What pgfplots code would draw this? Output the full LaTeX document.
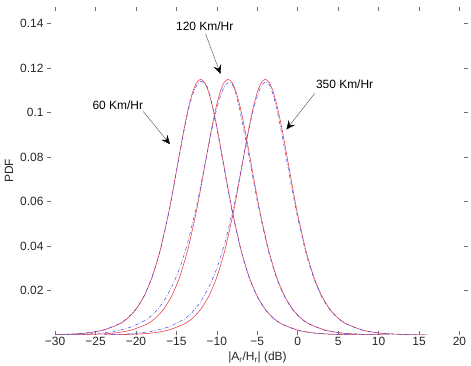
\documentclass[border=0pt]{standalone}
\usepackage{pgfplots}
\pgfplotsset{compat=1.18}
\usepackage{fontspec}
\setmainfont{Liberation Sans}
\usetikzlibrary{arrows.meta}

\definecolor{anaRed}{RGB}{236,70,80}
\definecolor{simBlue}{RGB}{70,70,225}
\definecolor{axGray}{RGB}{110,110,110}

% analytical PDF (solid red) and simulated PDF (dash-dot blue) for three speeds
\pgfplotstableread{
x y
-30 0.00015
-28 0.0004
-26 0.0009
-24 0.0022
-22 0.0050
-21 0.0076
-20 0.0115
-19 0.0174
-18 0.0260
-17 0.0382
-16 0.0543
-15.5 0.0637
-15 0.0738
-14.5 0.0839
-14 0.0937
-13.5 0.1023
-13 0.1091
-12.5 0.1135
-12 0.1150
-11.5 0.1135
-11 0.1091
-10.5 0.1023
-10 0.0937
-9.5 0.0839
-9 0.0738
-8.5 0.0637
-8 0.0543
-7 0.0382
-6 0.0260
-5 0.0174
-4 0.0115
-3 0.0076
-2 0.0050
0 0.0022
2 0.0009
4 0.0004
6 0.00015
8 0.00006
}\redA
\pgfplotstableread{
x y
-30 0.0002
-28 0.0004
-26 0.0010
-24 0.0023
-22 0.0052
-21 0.0078
-20 0.0117
-19 0.0176
-18 0.0262
-17 0.0380
-16 0.0540
-15.5 0.0632
-15 0.0735
-14.5 0.0832
-14 0.0930
-13.5 0.1015
-13 0.1080
-12.5 0.1122
-12 0.1140
-11.5 0.1132
-11 0.1100
-10.5 0.1020
-10 0.0930
-9.5 0.0828
-9 0.0728
-8.5 0.0630
-8 0.0535
-7 0.0378
-6 0.0258
-5 0.0172
-4 0.0113
-3 0.0075
-2 0.0049
0 0.0021
2 0.0009
4 0.0004
6 0.00015
8 0.00005
}\blueA
\pgfplotstableread{
x y
-28.6 0.00006
-26.6 0.00015
-24.6 0.0004
-22.6 0.0009
-20.6 0.0022
-18.6 0.0050
-17.6 0.0076
-16.6 0.0115
-15.6 0.0174
-14.6 0.0260
-13.6 0.0382
-12.6 0.0543
-12.1 0.0637
-11.6 0.0738
-11.1 0.0839
-10.6 0.0937
-10.1 0.1023
-9.6 0.1091
-9.1 0.1135
-8.6 0.1150
-8.1 0.1135
-7.6 0.1091
-7.1 0.1023
-6.6 0.0937
-6.1 0.0839
-5.6 0.0738
-5.1 0.0637
-4.6 0.0543
-3.6 0.0382
-2.6 0.0260
-1.6 0.0174
-0.6 0.0115
0.4 0.0076
1.4 0.0050
3.4 0.0022
5.4 0.0009
7.4 0.0004
9.4 0.00015
11.4 0.00006
}\redB
\pgfplotstableread{
x y
-28.6 0.0001
-26.6 0.0003
-24.6 0.0008
-22.6 0.0017
-20.6 0.0036
-18.6 0.0072
-17.6 0.0104
-16.6 0.0150
-15.6 0.0215
-14.6 0.0300
-13.6 0.0415
-12.6 0.0565
-12.1 0.0650
-11.6 0.0745
-11.1 0.0835
-10.6 0.0925
-10.1 0.1005
-9.6 0.1070
-9.1 0.1115
-8.6 0.1135
-8.1 0.1128
-7.6 0.1080
-7.1 0.1000
-6.6 0.0910
-6.1 0.0815
-5.6 0.0718
-5.1 0.0622
-4.6 0.0532
-3.6 0.0375
-2.6 0.0255
-1.6 0.0170
-0.6 0.0112
0.4 0.0074
1.4 0.0049
3.4 0.0021
5.4 0.0009
7.4 0.0004
9.4 0.00015
11.4 0.00005
}\blueB
\pgfplotstableread{
x y
-24 0.00006
-22 0.00015
-20 0.0004
-18 0.0009
-16 0.0022
-14 0.0050
-13 0.0076
-12 0.0115
-11 0.0174
-10 0.0260
-9 0.0382
-8 0.0543
-7.5 0.0637
-7 0.0738
-6.5 0.0839
-6 0.0937
-5.5 0.1023
-5 0.1091
-4.5 0.1135
-4 0.1150
-3.5 0.1135
-3 0.1091
-2.5 0.1023
-2 0.0937
-1.5 0.0839
-1 0.0738
-0.5 0.0637
0 0.0543
1 0.0382
2 0.0260
3 0.0174
4 0.0115
5 0.0076
6 0.0050
8 0.0022
10 0.0009
12 0.0004
14 0.00015
16 0.00006
}\redC
\pgfplotstableread{
x y
-24 0.0001
-22 0.0003
-20 0.0008
-18 0.0017
-16 0.0036
-14 0.0072
-13 0.0104
-12 0.0150
-11 0.0215
-10 0.0300
-9 0.0415
-8 0.0565
-7.5 0.0650
-7 0.0745
-6.5 0.0840
-6 0.0930
-5.5 0.1010
-5 0.1075
-4.5 0.1120
-4 0.1138
-3.5 0.1125
-3 0.1075
-2.5 0.1000
-2 0.0910
-1.5 0.0812
-1 0.0715
-0.5 0.0618
0 0.0528
1 0.0372
2 0.0255
3 0.0170
4 0.0112
5 0.0075
6 0.0050
8 0.0022
10 0.0009
12 0.0004
14 0.00015
16 0.00005
}\blueC

\begin{document}
\begin{tikzpicture}
\begin{axis}[
  scale only axis,
  width=421bp, height=328bp,
  xmin=-31, xmax=21.06,
  ymin=0, ymax=0.1475,
  xtick={-30,-25,...,20},
  xticklabels={−30,−25,−20,−15,−10,−5,0,5,10,15,20},
  ytick={0.02,0.04,...,0.14},
  yticklabel style={/pgf/number format/fixed, /pgf/number format/precision=2},
  scaled y ticks=false,
  /pgf/number format/assume math mode=true,
  tick label style={font=\fontsize{12}{14}\selectfont, text=black!85},
  xticklabel style={yshift=1bp},
  label style={font=\fontsize{12}{14}\selectfont, text=black!85},
  tick align=inside,
  major tick length=4bp,
  tick style={axGray, line width=0.5pt},
  axis line style={draw=none},
  xtick pos=both, ytick pos=both,
  ylabel={PDF},
  ylabel style={at={(axis description cs:-0.090,0.5)}, anchor=center},
  xlabel={|A\textsubscript{r}/H\textsubscript{r}| (dB)},
  xlabel style={at={(axis description cs:0.5,0)}, anchor=north, yshift=-16.5bp, inner sep=0pt},
]
% bottom axis line
\draw[axGray, line width=0.7pt] (rel axis cs:0,0) -- (rel axis cs:1,0);

\addplot[anaRed, line width=0.6pt, smooth, tension=0.4] table {\redA};
\addplot[anaRed, line width=0.6pt, smooth, tension=0.4] table {\redB};
\addplot[anaRed, line width=0.6pt, smooth, tension=0.4] table {\redC};
\addplot[simBlue, line width=0.5pt, dash pattern=on 3.5pt off 1.8pt on 0.7pt off 1.8pt, smooth, tension=0.4] table {\blueA};
\addplot[simBlue, line width=0.5pt, dash pattern=on 3.5pt off 1.8pt on 0.7pt off 1.8pt, smooth, tension=0.4] table {\blueB};
\addplot[simBlue, line width=0.5pt, dash pattern=on 3.5pt off 1.8pt on 0.7pt off 1.8pt, smooth, tension=0.4] table {\blueC};

% speed annotations
\node[font=\fontsize{12}{14}\selectfont] at (axis cs:-22.25,0.1033) {60 Km/Hr};
\draw[black!70, line width=0.4pt, -{Stealth[length=9bp, width=8bp, inset=3.5bp, black]}]
  (axis cs:-19.1,0.1005) -- (axis cs:-15.8,0.0858);
\node[font=\fontsize{12}{14}\selectfont] at (axis cs:-11.5,0.1388) {120 Km/Hr};
\draw[black!70, line width=0.4pt, -{Stealth[length=9bp, width=8bp, inset=3.5bp, black]}]
  (axis cs:-11.4,0.1355) -- (axis cs:-9.55,0.1174);
\node[font=\fontsize{12}{14}\selectfont] at (axis cs:5.8,0.1127) {350 Km/Hr};
\draw[black!70, line width=0.4pt, -{Stealth[length=9bp, width=8bp, inset=3.5bp, black]}]
  (axis cs:2.1,0.1086) -- (axis cs:-1.4,0.0924);
\end{axis}
\pgfresetboundingbox
\path[use as bounding box] (current axis.south west) ++(-47bp,-31bp) rectangle ++(471bp,366bp);
\end{tikzpicture}
\end{document}
